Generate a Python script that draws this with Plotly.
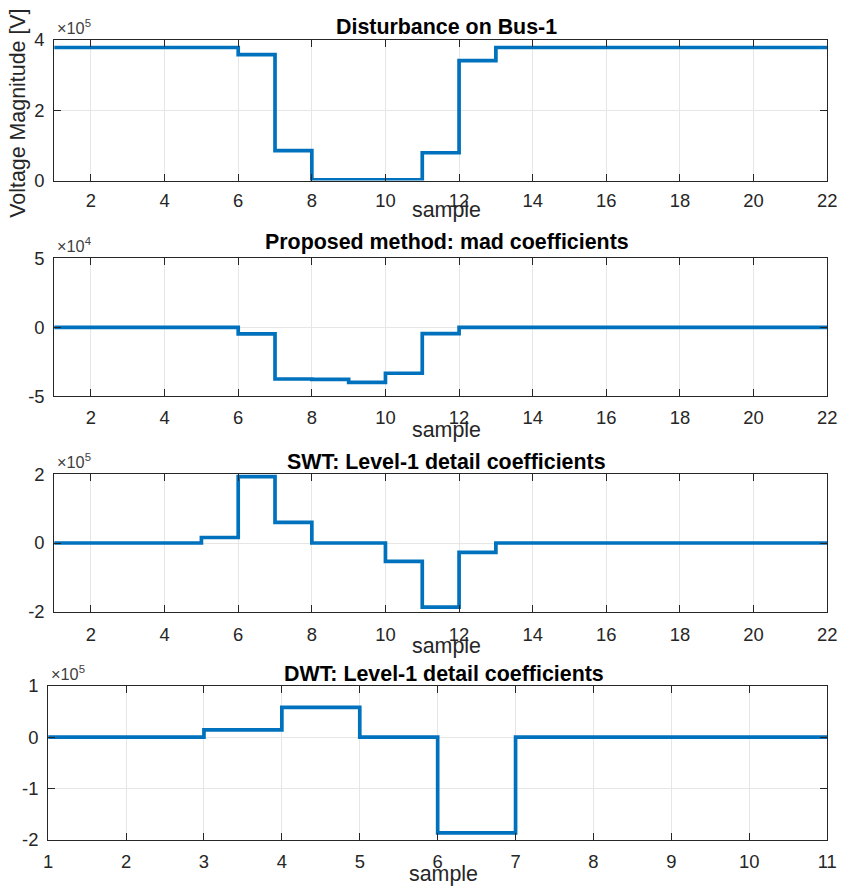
import plotly.graph_objects as go

# ---- data ----
x_bus = list(range(1, 23))
v_bus = [3.78e5, 3.78e5, 3.78e5, 3.78e5, 3.78e5, 3.58e5, 0.85e5, 0.02e5, 0.02e5, 0.02e5,
         0.79e5, 3.41e5, 3.78e5, 3.78e5, 3.78e5, 3.78e5, 3.78e5, 3.78e5, 3.78e5, 3.78e5,
         3.78e5, 3.78e5]

x_mad = list(range(1, 23))
v_mad = [0, 0, 0, 0, 0, -0.48e4, -3.75e4, -3.77e4, -4.0e4, -3.33e4,
         -0.46e4, 0, 0, 0, 0, 0, 0, 0, 0, 0, 0, 0]

x_swt = list(range(1, 23))
v_swt = [0, 0, 0, 0, 0.16e5, 1.93e5, 0.6e5, 0, 0, -0.53e5,
         -1.86e5, -0.27e5, 0, 0, 0, 0, 0, 0, 0, 0, 0, 0]

x_dwt = list(range(1, 12))
v_dwt = [0, 0, 0.14e5, 0.58e5, 0, -1.87e5, 0, 0, 0, 0, 0]

titles = ["Disturbance on Bus-1", "Proposed method: mad coefficients",
          "SWT: Level-1 detail coefficients", "DWT: Level-1 detail coefficients"]
exponents = ["5", "4", "5", "5"]
ytick_vals = [[0, 2e5, 4e5], [-5e4, 0, 5e4], [-2e5, 0, 2e5], [-2e5, -1e5, 0, 1e5]]
ytick_text = [["0", "2", "4"], ["-5", "0", "5"], ["-2", "0", "2"], ["-2", "-1", "0", "1"]]
yranges = [[0, 4e5], [-5e4, 5e4], [-2e5, 2e5], [-2e5, 1e5]]
xtick_vals = [list(range(2, 23, 2))] * 3 + [list(range(1, 12))]
xranges = [[1, 22]] * 3 + [[1, 11]]

series = [(x_bus, v_bus), (x_mad, v_mad), (x_swt, v_swt), (x_dwt, v_dwt)]

# ---- layout geometry ----
W, H = 847, 896
# photographed picture ≈ offset + scale * page pixel; targets below are picture pixels
SX, AX = 0.981, 4.9
SY, AY = 0.978, 9.2


def px(t):
    return min(max((t - AX) / SX, 0), W) / W


def py(t):
    return 1 - min(max((t - AY) / SY, 0), H) / H


boxes = [  # left, right, top, bottom (picture pixels)
    (54, 826, 38, 179),
    (54, 826, 257, 395),
    (54, 826, 473, 611),
    (48, 826, 685, 839),
]
xlabel_mid = [208, 429, 645, 873]
title_mid = [25, 241, 461, 673]
tick_standoff = [3, 5, 6, 5]

FONT = "Liberation Sans"
BLUE = "#0072BD"
TXT = "#262626"

fig = go.Figure()
annotations = []
for i, ((xs, ys), (l, r, t, b)) in enumerate(zip(series, boxes)):
    n = i + 1
    xa = "x" if n == 1 else f"x{n}"
    ya = "y" if n == 1 else f"y{n}"
    fig.add_trace(go.Scatter(x=xs, y=ys, mode="lines", line_shape="hv",
                             line=dict(color=BLUE, width=3.7),
                             xaxis=xa, yaxis=ya, showlegend=False, hoverinfo="skip"))
    axcommon = dict(showline=True, linecolor="#262626", linewidth=1, mirror="ticks",
                    ticks="inside", ticklen=7, tickcolor="#262626",
                    showgrid=True, gridcolor="#e6e6e6", gridwidth=1, zeroline=False,
                    ticklabeloverflow="allow",
                    tickfont=dict(family=FONT, size=18.4, color=TXT))
    fig.update_layout(**{
        ("xaxis" if n == 1 else f"xaxis{n}"): dict(
            domain=[px(l), px(r)], range=xranges[i], tickvals=xtick_vals[i],
            anchor=ya, ticklabelstandoff=tick_standoff[i], **axcommon),
        ("yaxis" if n == 1 else f"yaxis{n}"): dict(
            domain=[py(b), py(t)], range=yranges[i], tickvals=ytick_vals[i],
            ticktext=ytick_text[i], anchor=xa, ticklabelstandoff=5, **axcommon),
    })
    annotations.append(dict(text=f"<b>{titles[i]}</b>", x=px((l + 838) / 2), y=py(title_mid[i]),
                            xref="paper", yref="paper", xanchor="center", yanchor="middle",
                            showarrow=False, font=dict(family=FONT, size=21.4, color="#000000")))
    annotations.append(dict(text=f"×10<sup>{exponents[i]}</sup>", x=px(l + 1), y=py(t - 13),
                            xref="paper", yref="paper", xanchor="left", yanchor="middle",
                            showarrow=False, font=dict(family=FONT, size=16.3, color="#404040")))
    annotations.append(dict(text="sample", x=px((l + 838) / 2), y=py(xlabel_mid[i]),
                            xref="paper", yref="paper", xanchor="center", yanchor="middle",
                            showarrow=False, font=dict(family=FONT, size=21.4, color=TXT)))

annotations.append(dict(text="Voltage Magnitude [V]", x=px(18), y=py(112),
                        xref="paper", yref="paper", xanchor="center", yanchor="middle",
                        textangle=-90, showarrow=False,
                        font=dict(family=FONT, size=21.4, color=TXT)))

fig.update_layout(width=W, height=H, margin=dict(l=0, r=0, t=0, b=0),
                  paper_bgcolor="white", plot_bgcolor="white",
                  annotations=annotations)

css_fix = (
    "var s=document.createElement('style');"
    "s.textContent='html,body{margin:0!important;padding:0!important;overflow:hidden!important;"
    "width:847px!important;height:896px!important;}';"
    "document.head.appendChild(s);"
)
fig.write_html("out.html", config={"displayModeBar": False}, post_script=css_fix)
